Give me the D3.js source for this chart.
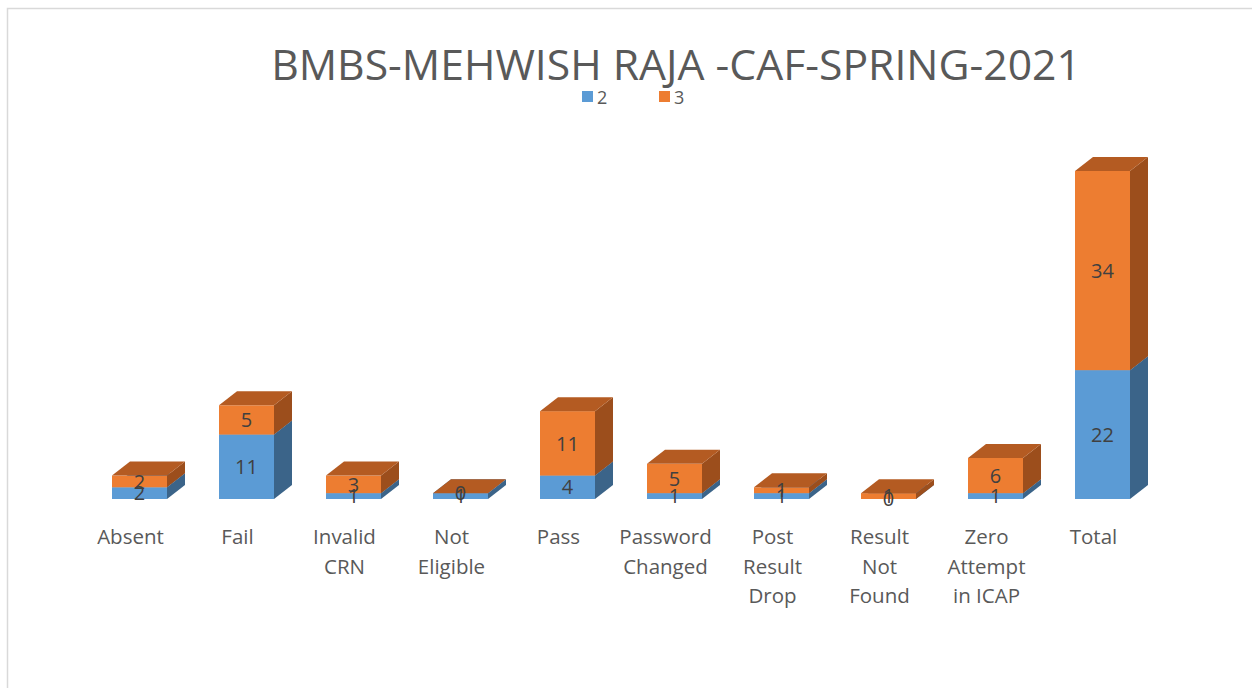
<!DOCTYPE html>
<html>
<head>
<meta charset="utf-8">
<script src="https://cdn.jsdelivr.net/npm/d3@7/dist/d3.min.js"></script>
<style>
  body { margin: 0; background: #fff; }
  svg { display: block; }
</style>
</head>
<body>
<div id="chart-area"></div>
<script>
// chart data
const categories = ['Absent', 'Fail', 'Invalid\nCRN', 'Not\nEligible', 'Pass',
  'Password\nChanged', 'Post\nResult\nDrop', 'Result\nNot\nFound', 'Zero\nAttempt\nin ICAP', 'Total']
const seriesNames = ['2', '3']
const series2 = [2, 11, 1, 1, 4, 1, 1, 0, 1, 22]
const series3 = [2, 5, 3, 0, 11, 5, 1, 1, 6, 34]
const title = 'BMBS-MEHWISH RAJA -CAF-SPRING-2021'

const width = 1252
const height = 688
const font = "'Open Sans', 'Noto Sans', sans-serif"

const colors = [
  {front: '#5b9bd5', side: '#3b6489', top: '#4a80b3'},
  {front: '#ed7d31', side: '#9c4e1c', top: '#b45b22'}
]
const dx = 18, dy = 14

const svg = d3.select('#chart-area').append('svg')
  .attr('width', width)
  .attr('height', height)

// chart frame
svg.append('rect')
  .attr('x', 7.5).attr('y', 8.5)
  .attr('width', width).attr('height', height)
  .attr('fill', 'none')
  .attr('stroke', '#d9d9d9')
  .attr('stroke-width', 1.5)

const x = d3.scaleBand()
  .domain(categories)
  .range([86, 1156])
  .paddingInner(0.486)
  .paddingOuter(0.243)

const y = d3.scaleLinear()
  .domain([0, 56])
  .range([499, 171])

const stacked = d3.stack().keys([0, 1])(categories.map((c, i) => ({cat: c, 0: series2[i], 1: series3[i]})))

const bars = svg.append('g')

stacked.forEach((layer, si) => {
  const col = colors[si]
  layer.forEach(d => {
    const x0 = x(d.data.cat)
    const x1 = x0 + x.bandwidth()
    const yb = y(d[0])
    const yt = y(d[1])
    // side face
    bars.append('path')
      .attr('d', `M${x1},${yt}L${x1 + dx},${yt - dy}L${x1 + dx},${yb - dy}L${x1},${yb}Z`)
      .attr('fill', col.side)
    // front face
    bars.append('rect')
      .attr('x', x0).attr('y', yt)
      .attr('width', x.bandwidth()).attr('height', yb - yt)
      .attr('fill', col.front)
    // top face
    bars.append('path')
      .attr('d', `M${x0},${yt}L${x0 + dx},${yt - dy}L${x1 + dx},${yt - dy}L${x1},${yt}Z`)
      .attr('fill', col.top)
  })
})

// data labels
stacked.forEach((layer, si) => {
  svg.append('g').selectAll('text')
    .data(layer)
    .enter().append('text')
      .attr('x', d => x(d.data.cat) + x.bandwidth() / 2)
      .attr('y', d => (y(d[0]) + y(d[1])) / 2)
      .attr('dy', '0.36em')
      .attr('text-anchor', 'middle')
      .attr('font-family', font)
      .attr('font-size', 20)
      .attr('fill', '#404040')
      .text(d => d.data[si])
})

// category labels
const xAxis = svg.append('g')
categories.forEach(c => {
  const cx = x(c) + x.bandwidth() / 2 - 9
  const t = xAxis.append('text')
    .attr('x', cx)
    .attr('y', 544)
    .attr('text-anchor', 'middle')
    .attr('font-family', font)
    .attr('font-size', 20.5)
    .attr('fill', '#595959')
  c.split('\n').forEach((line, i) => {
    t.append('tspan')
      .attr('x', cx)
      .attr('dy', i === 0 ? 0 : 29.5)
      .text(line)
  })
})

// title, sized to the reference width
const titleText = svg.append('text')
  .attr('x', 676)
  .attr('y', 80)
  .attr('text-anchor', 'middle')
  .attr('font-family', font)
  .attr('font-size', 38)
  .attr('fill', '#595959')
  .text(title)
const tw = titleText.node().getComputedTextLength()
titleText.attr('font-size', 38 * 810 / tw)

// legend
const legendX = [582, 659]
const legend = svg.append('g')
seriesNames.forEach((name, i) => {
  legend.append('rect')
    .attr('x', legendX[i]).attr('y', 91)
    .attr('width', 11).attr('height', 11)
    .attr('fill', colors[i].front)
  legend.append('text')
    .attr('x', legendX[i] + 15)
    .attr('y', 104)
    .attr('font-family', font)
    .attr('font-size', 18)
    .attr('fill', '#595959')
    .text(name)
})
</script>
</body>
</html>
